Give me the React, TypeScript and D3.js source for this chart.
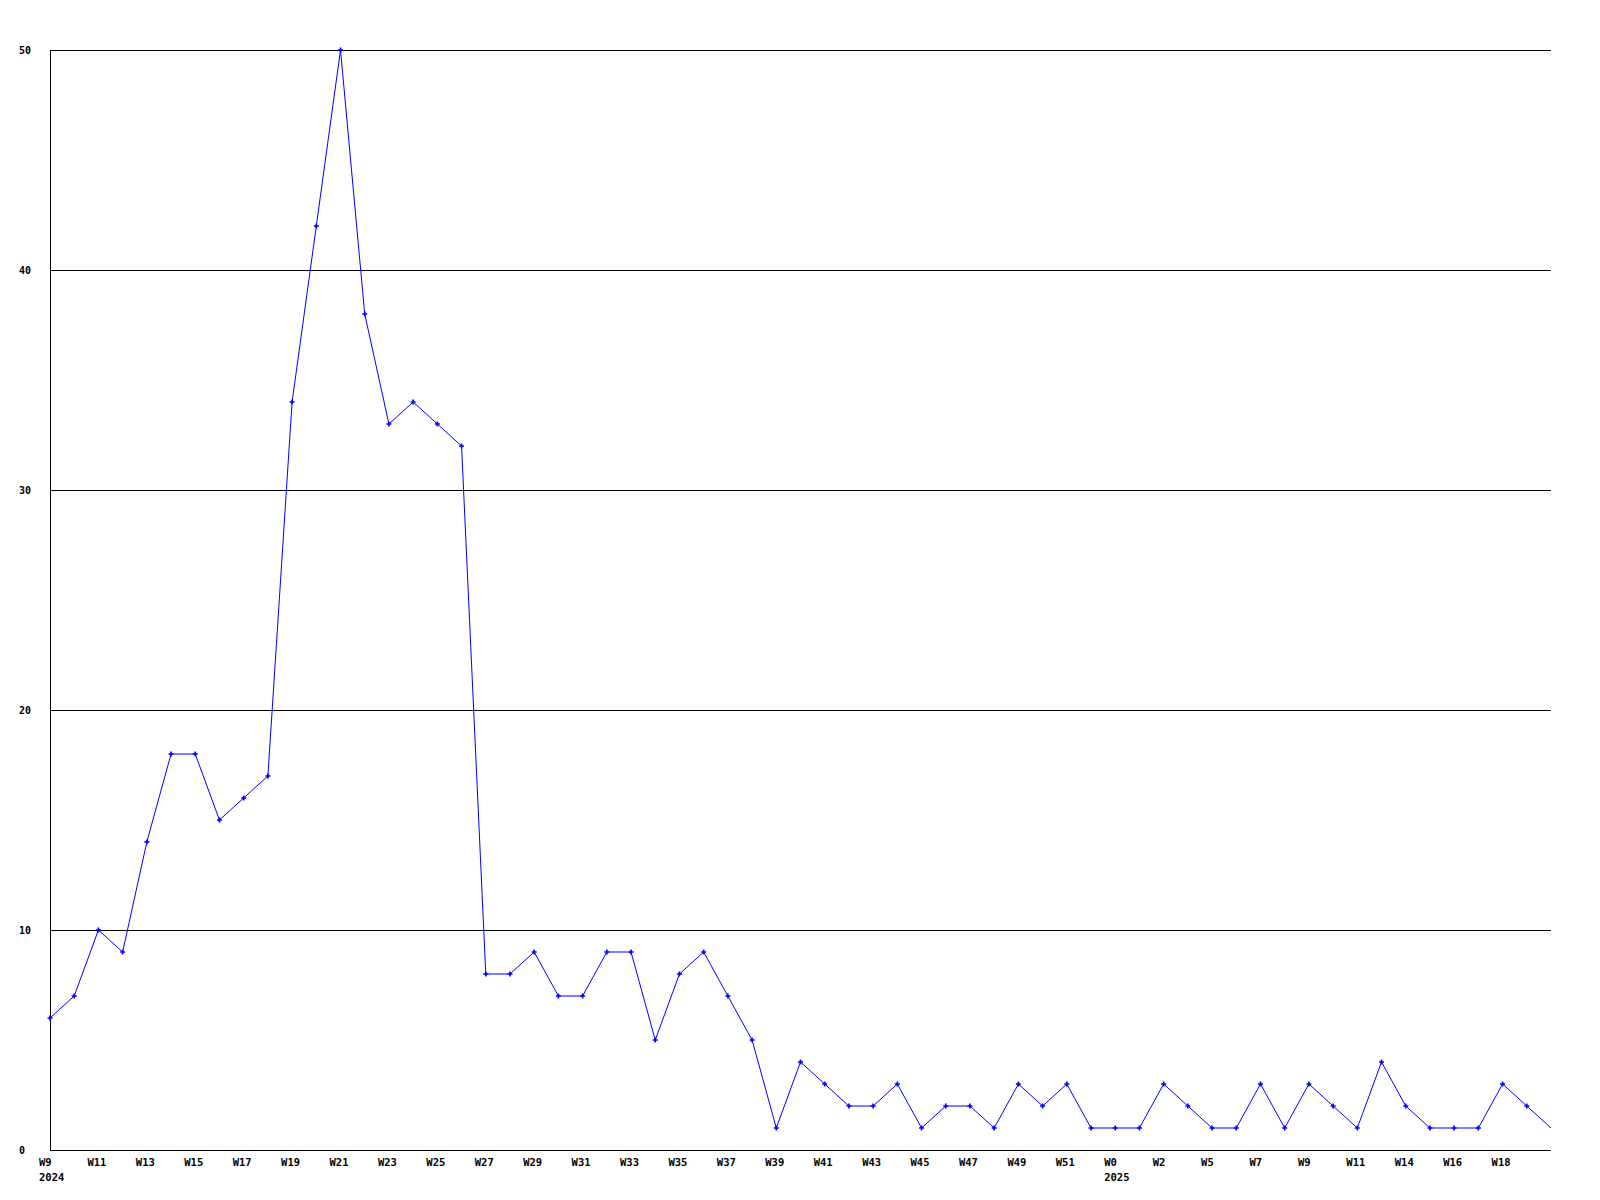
import React from "react";
import * as d3 from "d3";

const weekLabels: string[] = [
  "W9", "", "W11", "", "W13", "", "W15", "", "W17", "", "W19", "", "W21", "", "W23", "", "W25", "", "W27", "", "W29", "",
  "W31", "", "W33", "", "W35", "", "W37", "", "W39", "", "W41", "", "W43", "", "W45", "", "W47", "", "W49", "", "W51", "",
  "W0", "", "W2", "", "W5", "", "W7", "", "W9", "", "W11", "", "W14", "", "W16", "", "W18", "", "",
];
const yearLabels: { index: number; label: string }[] = [
  { index: 0, label: "2024" },
  { index: 44, label: "2025" },
];
const values: number[] = [
  6, 7, 10, 9, 14, 18, 18, 15, 16, 17, 34, 42, 50, 38, 33, 34, 33, 32, 8, 8, 9, 7, 7, 9, 9, 5, 8, 9, 7, 5, 1,
  4, 3, 2, 2, 3, 1, 2, 2, 1, 3, 2, 3, 1, 1, 1, 3, 2, 1, 1, 3, 1, 3, 2, 1, 4, 2, 1, 1, 1, 3, 2, 1,
];
const yTicks: number[] = [0, 10, 20, 30, 40, 50];

export default function App() {
  const left = 50, right = 1551, top = 50, bottom = 1150;
  const x = d3.scaleLinear().domain([0, values.length - 1]).range([left, right]);
  const y = d3.scaleLinear().domain([0, 50]).range([bottom, top]);
  const line = d3.line<number>().x((_, i) => x(i)).y((d) => y(d));
  const marker = d3.symbol(d3.symbolCross, 14)() as string;
  const font = "'DejaVu Sans Mono', monospace";
  return (
    <svg width={1600} height={1200} style={{ position: "absolute", left: 0, top: 0, background: "#fff" }}>
      <rect x={0} y={0} width={1600} height={1200} fill="#fff" />
      {yTicks.map((t) => (
        <g key={t}>
          {t > 0 && (
            <line x1={left} x2={right} y1={y(t) + 0.5} y2={y(t) + 0.5} stroke="#000" strokeWidth={1} shapeRendering="crispEdges" />
          )}
          <text x={19} y={y(t) + 4} fontFamily={font} fontWeight="bold" fontSize={10} fill="#000">
            {t}
          </text>
        </g>
      ))}
      <line x1={left + 0.5} x2={left + 0.5} y1={top} y2={bottom} stroke="#000" shapeRendering="crispEdges" />
      <line x1={left} x2={right} y1={bottom + 0.5} y2={bottom + 0.5} stroke="#000" shapeRendering="crispEdges" />
      <path d={line(values) as string} fill="none" stroke="#0000ff" strokeWidth={1} />
      {values.slice(0, values.length - 1).map((v, i) => (
        <path key={i} d={marker} transform={`translate(${x(i)},${y(v)})`} fill="#0000ff" />
      ))}
      {weekLabels.map((l, i) =>
        l ? (
          <text key={i} x={x(i) - 11} y={1166} fontFamily={font} fontWeight="bold" fontSize={10.5} fill="#000">
            {l}
          </text>
        ) : null
      )}
      {yearLabels.map((yl) => (
        <text key={yl.label} x={x(yl.index) - 11} y={1181} fontFamily={font} fontWeight="bold" fontSize={10.5} fill="#000">
          {yl.label}
        </text>
      ))}
    </svg>
  );
}
